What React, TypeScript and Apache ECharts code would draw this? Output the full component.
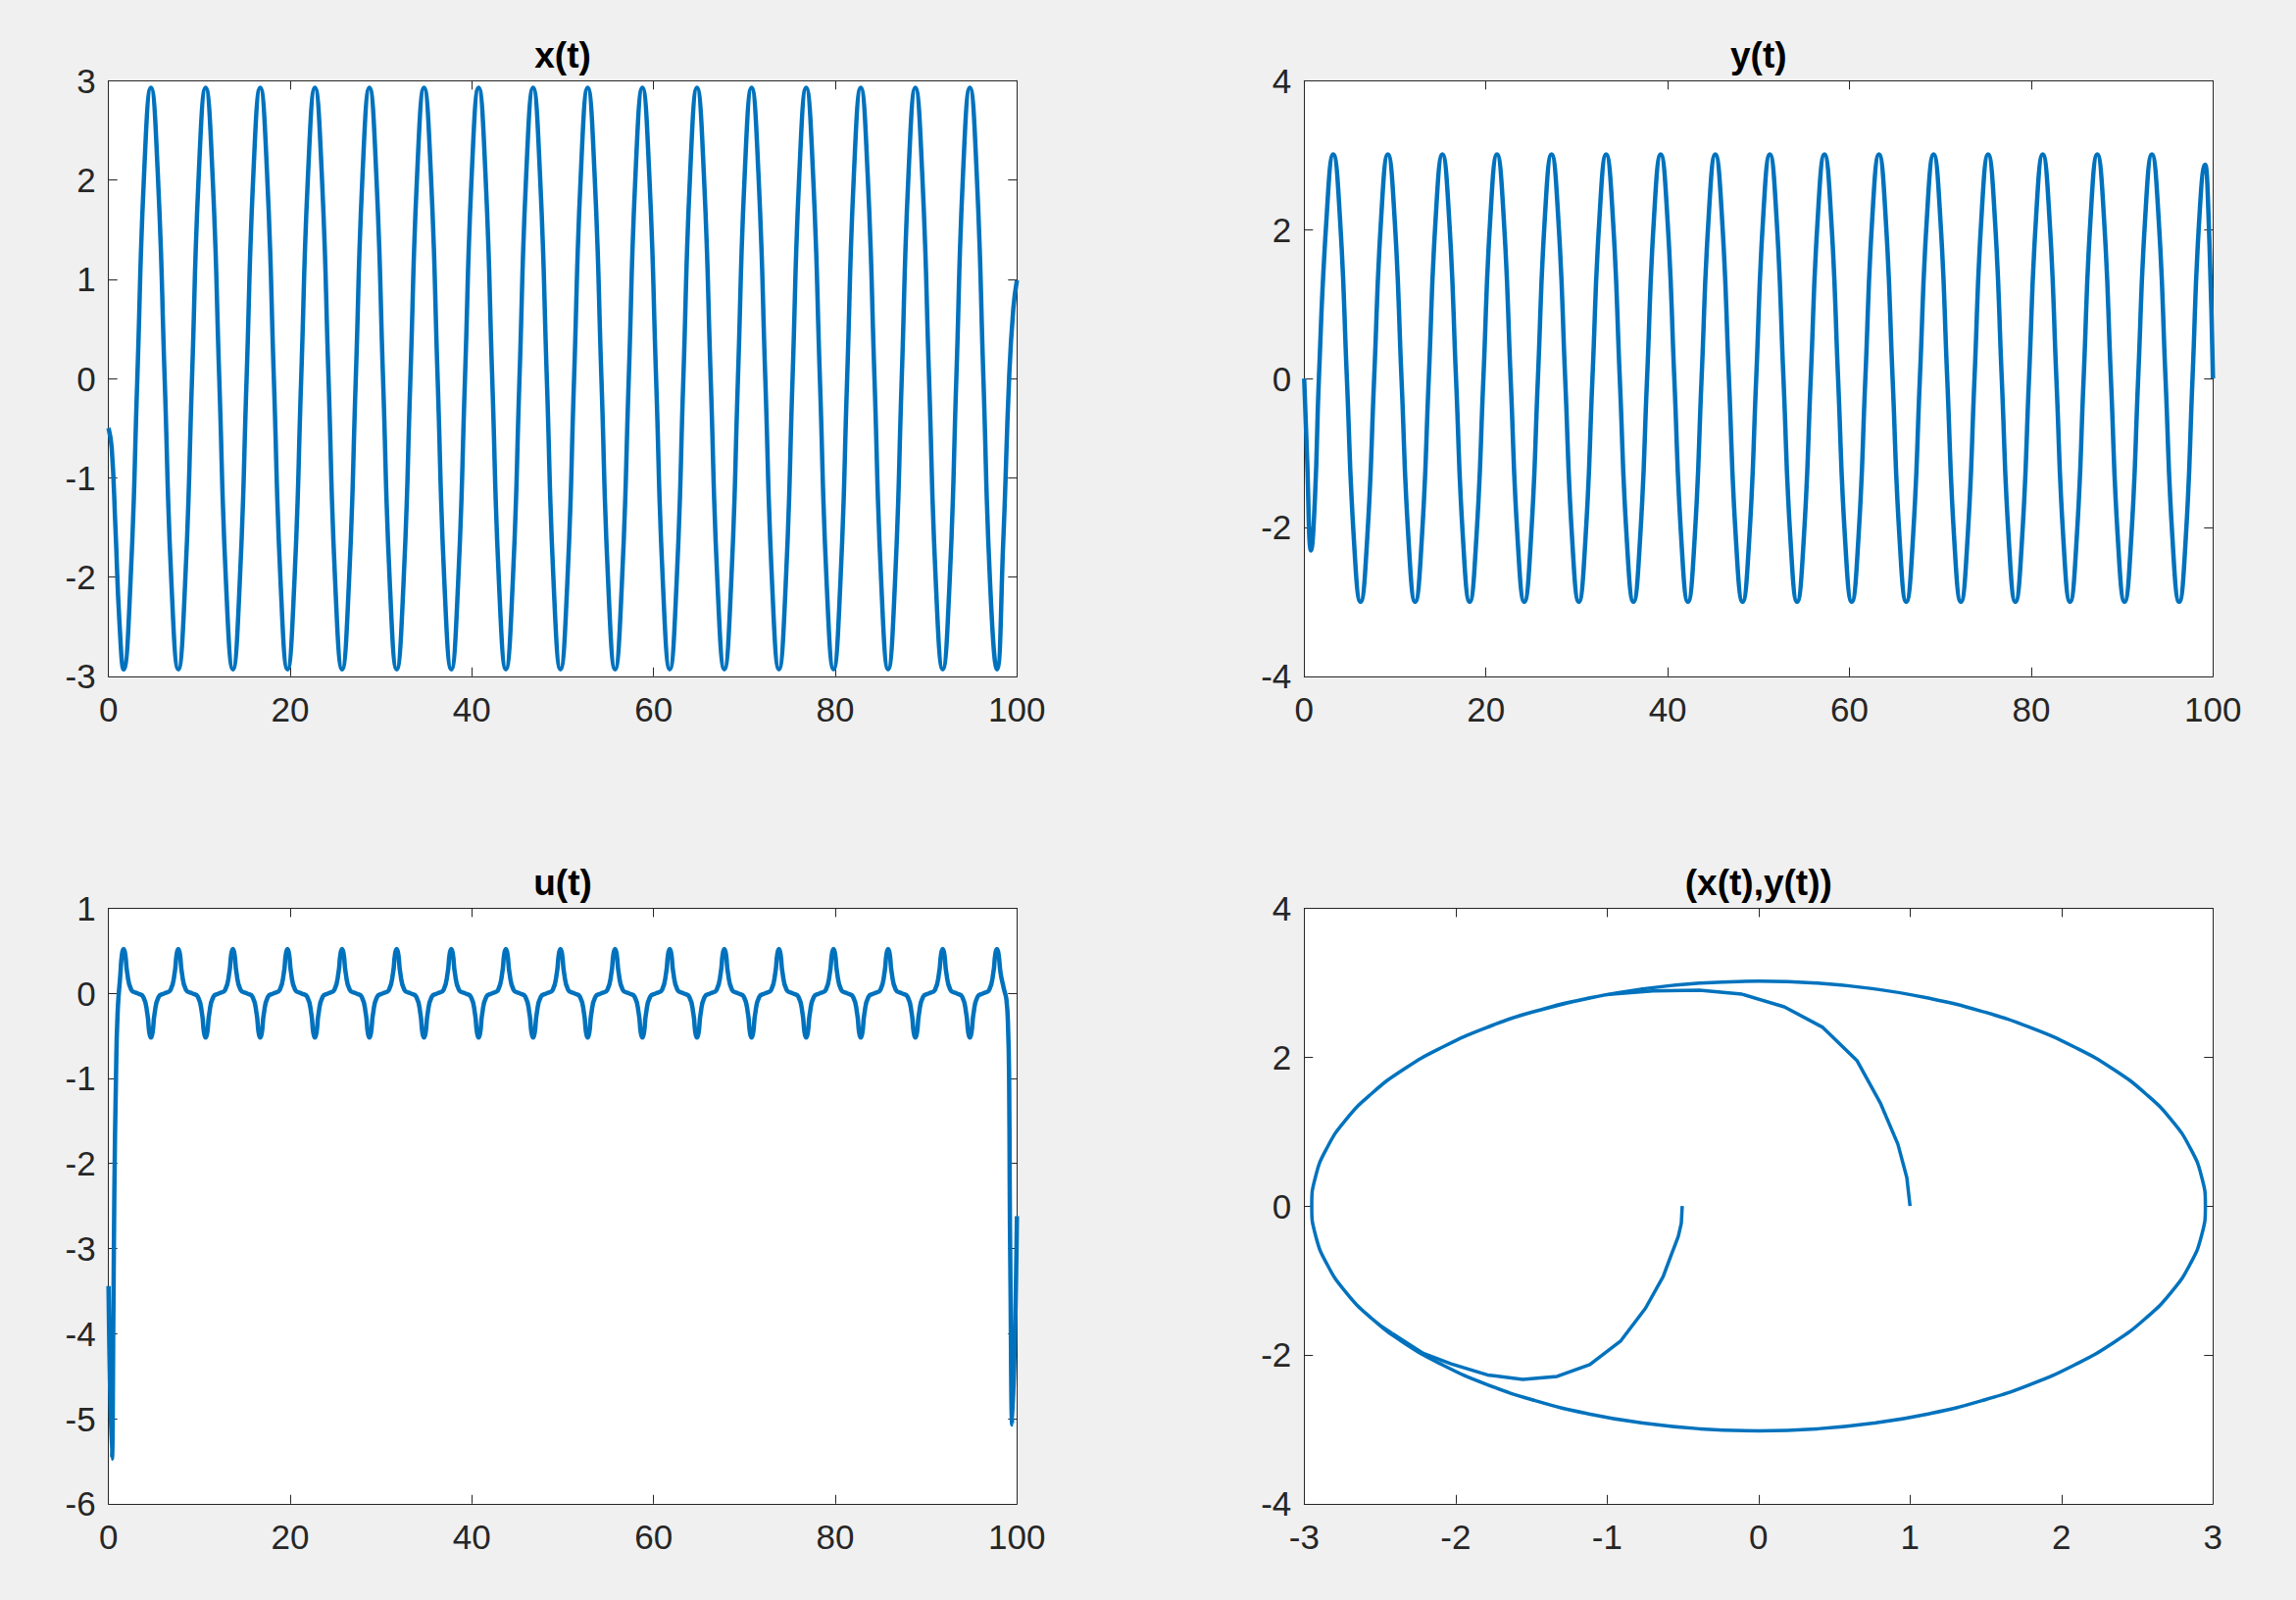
import React, { useEffect, useRef } from "react";
import * as echarts from "echarts";

// ---------- data ----------
const xOfT: [number, number][] = [
  [0, -0.5], [0.35, -0.7], [0.76, -1.5], [1.2, -2.45], [1.66, -2.93],
  [2.41, -2.07], [3.17, 0], [3.92, 2.07], [4.67, 2.93],
  [5.42, 2.07], [6.18, 0], [6.93, -2.07], [7.68, -2.93],
  [8.43, -2.07], [9.19, 0], [9.94, 2.07], [10.69, 2.93],
  [11.44, 2.07], [12.19, 0], [12.94, -2.07], [13.69, -2.93],
  [14.44, -2.07], [15.2, 0], [15.95, 2.07], [16.7, 2.93],
  [17.45, 2.07], [18.2, 0], [18.95, -2.07], [19.7, -2.93],
  [20.45, -2.07], [21.21, 0], [21.97, 2.07], [22.72, 2.93],
  [23.47, 2.07], [24.22, 0], [24.96, -2.07], [25.71, -2.93],
  [26.46, -2.07], [27.22, 0], [27.97, 2.07], [28.72, 2.93],
  [29.47, 2.07], [30.22, 0], [30.97, -2.07], [31.72, -2.93],
  [32.47, -2.07], [33.23, 0], [33.98, 2.07], [34.73, 2.93],
  [35.48, 2.07], [36.23, 0], [36.98, -2.07], [37.73, -2.93],
  [38.48, -2.07], [39.24, 0], [39.99, 2.07], [40.74, 2.93],
  [41.49, 2.07], [42.24, 0], [42.99, -2.07], [43.74, -2.93],
  [44.49, -2.07], [45.24, 0], [45.99, 2.07], [46.74, 2.93],
  [47.49, 2.07], [48.25, 0], [49.0, -2.07], [49.75, -2.93],
  [50.5, -2.07], [51.25, 0], [52.0, 2.07], [52.75, 2.93],
  [53.5, 2.07], [54.26, 0], [55.01, -2.07], [55.76, -2.93],
  [56.51, -2.07], [57.27, 0], [58.02, 2.07], [58.77, 2.93],
  [59.52, 2.07], [60.28, 0], [61.03, -2.07], [61.78, -2.93],
  [62.53, -2.07], [63.28, 0], [64.03, 2.07], [64.78, 2.93],
  [65.53, 2.07], [66.29, 0], [67.04, -2.07], [67.79, -2.93],
  [68.54, -2.07], [69.29, 0], [70.04, 2.07], [70.79, 2.93],
  [71.54, 2.07], [72.3, 0], [73.05, -2.07], [73.8, -2.93],
  [74.55, -2.07], [75.3, 0], [76.05, 2.07], [76.8, 2.93],
  [77.55, 2.07], [78.31, 0], [79.06, -2.07], [79.81, -2.93],
  [80.56, -2.07], [81.31, 0], [82.06, 2.07], [82.81, 2.93],
  [83.56, 2.07], [84.32, 0], [85.07, -2.07], [85.82, -2.93],
  [86.57, -2.07], [87.32, 0], [88.07, 2.07], [88.82, 2.93],
  [89.57, 2.07], [90.33, 0], [91.08, -2.07], [91.83, -2.93],
  [92.58, -2.07], [93.33, 0], [94.07, 2.07], [94.82, 2.93],
  [95.57, 2.07], [96.31, 0], [97.05, -2.07], [97.8, -2.93],
  [98.5, -1.63], [99.14, 0], [99.6, 0.7], [100, 0.99],
];

const yOfT: [number, number][] = [
  [0, 0], [0.3, -1.0], [0.76, -2.31], [1.19, -1.6], [1.62, 0], [2.45, 2.13], [3.2, 3.01],
  [3.95, 2.13], [4.7, 0], [5.45, -2.12], [6.2, -3.0],
  [6.95, -2.12], [7.7, 0], [8.46, 2.13], [9.21, 3.01],
  [9.96, 2.13], [10.71, 0], [11.46, -2.12], [12.21, -3.0],
  [12.96, -2.12], [13.71, 0], [14.46, 2.13], [15.21, 3.01],
  [15.96, 2.13], [16.71, 0], [17.46, -2.12], [18.21, -3.0],
  [18.96, -2.12], [19.72, 0], [20.47, 2.13], [21.22, 3.01],
  [21.97, 2.13], [22.72, 0], [23.47, -2.12], [24.22, -3.0],
  [24.97, -2.12], [25.72, 0], [26.47, 2.13], [27.22, 3.01],
  [27.97, 2.13], [28.72, 0], [29.47, -2.12], [30.22, -3.0],
  [30.97, -2.12], [31.72, 0], [32.48, 2.13], [33.23, 3.01],
  [33.98, 2.13], [34.73, 0], [35.48, -2.12], [36.23, -3.0],
  [36.98, -2.12], [37.73, 0], [38.48, 2.13], [39.23, 3.01],
  [39.98, 2.13], [40.73, 0], [41.48, -2.12], [42.23, -3.0],
  [42.98, -2.12], [43.73, 0], [44.49, 2.13], [45.24, 3.01],
  [45.99, 2.13], [46.74, 0], [47.49, -2.12], [48.24, -3.0],
  [48.99, -2.12], [49.74, 0], [50.49, 2.13], [51.24, 3.01],
  [51.99, 2.13], [52.74, 0], [53.49, -2.12], [54.24, -3.0],
  [54.99, -2.12], [55.74, 0], [56.5, 2.13], [57.25, 3.01],
  [58.0, 2.13], [58.75, 0], [59.5, -2.12], [60.25, -3.0],
  [61.0, -2.12], [61.75, 0], [62.5, 2.13], [63.25, 3.01],
  [64.0, 2.13], [64.75, 0], [65.5, -2.12], [66.25, -3.0],
  [67.0, -2.12], [67.75, 0], [68.51, 2.13], [69.26, 3.01],
  [70.01, 2.13], [70.76, 0], [71.51, -2.12], [72.26, -3.0],
  [73.01, -2.12], [73.76, 0], [74.51, 2.13], [75.26, 3.01],
  [76.01, 2.13], [76.76, 0], [77.51, -2.12], [78.26, -3.0],
  [79.01, -2.12], [79.76, 0], [80.52, 2.13], [81.27, 3.01],
  [82.02, 2.13], [82.77, 0], [83.52, -2.12], [84.27, -3.0],
  [85.02, -2.12], [85.77, 0], [86.52, 2.13], [87.27, 3.01],
  [88.02, 2.13], [88.77, 0], [89.52, -2.12], [90.27, -3.0],
  [91.02, -2.12], [91.77, 0], [92.53, 2.13], [93.28, 3.01],
  [94.03, 2.13], [94.78, 0], [95.53, -2.12], [96.28, -3.0],
  [97.02, -2.12], [97.75, 0], [98.45, 2.05], [99.14, 2.87], [99.45, 2.4], [100, 0],
];

const uOfT: [number, number][] = [
  [0, -3.44], [0.36, -5.47], [0.54, -3.69], [0.64, -2.35], [0.82, -1.0], [1.0, -0.23],
  [1.3, 0.22], [1.48, 0.46], [1.66, 0.52],
  [1.84, 0.46], [2.06, 0.24], [2.51, 0.04], [3.17, 0], [3.82, -0.04], [4.27, -0.24], [4.49, -0.46], [4.67, -0.52],
  [4.85, -0.46], [5.07, -0.24], [5.52, -0.04], [6.18, 0], [6.83, 0.04], [7.28, 0.24], [7.5, 0.46], [7.68, 0.52],
  [7.86, 0.46], [8.08, 0.24], [8.53, 0.04], [9.19, 0], [9.84, -0.04], [10.29, -0.24], [10.51, -0.46], [10.69, -0.52],
  [10.87, -0.46], [11.09, -0.24], [11.54, -0.04], [12.19, 0], [12.84, 0.04], [13.29, 0.24], [13.51, 0.46], [13.69, 0.52],
  [13.87, 0.46], [14.09, 0.24], [14.54, 0.04], [15.2, 0], [15.85, -0.04], [16.3, -0.24], [16.52, -0.46], [16.7, -0.52],
  [16.88, -0.46], [17.1, -0.24], [17.55, -0.04], [18.2, 0], [18.85, 0.04], [19.3, 0.24], [19.52, 0.46], [19.7, 0.52],
  [19.88, 0.46], [20.1, 0.24], [20.55, 0.04], [21.21, 0], [21.87, -0.04], [22.32, -0.24], [22.54, -0.46], [22.72, -0.52],
  [22.9, -0.46], [23.12, -0.24], [23.57, -0.04], [24.22, 0], [24.86, 0.04], [25.31, 0.24], [25.53, 0.46], [25.71, 0.52],
  [25.89, 0.46], [26.11, 0.24], [26.56, 0.04], [27.22, 0], [27.87, -0.04], [28.32, -0.24], [28.54, -0.46], [28.72, -0.52],
  [28.9, -0.46], [29.12, -0.24], [29.57, -0.04], [30.22, 0], [30.87, 0.04], [31.32, 0.24], [31.54, 0.46], [31.72, 0.52],
  [31.9, 0.46], [32.12, 0.24], [32.57, 0.04], [33.23, 0], [33.88, -0.04], [34.33, -0.24], [34.55, -0.46], [34.73, -0.52],
  [34.91, -0.46], [35.13, -0.24], [35.58, -0.04], [36.23, 0], [36.88, 0.04], [37.33, 0.24], [37.55, 0.46], [37.73, 0.52],
  [37.91, 0.46], [38.13, 0.24], [38.58, 0.04], [39.24, 0], [39.89, -0.04], [40.34, -0.24], [40.56, -0.46], [40.74, -0.52],
  [40.92, -0.46], [41.14, -0.24], [41.59, -0.04], [42.24, 0], [42.89, 0.04], [43.34, 0.24], [43.56, 0.46], [43.74, 0.52],
  [43.92, 0.46], [44.14, 0.24], [44.59, 0.04], [45.24, 0], [45.89, -0.04], [46.34, -0.24], [46.56, -0.46], [46.74, -0.52],
  [46.92, -0.46], [47.14, -0.24], [47.59, -0.04], [48.25, 0], [48.9, 0.04], [49.35, 0.24], [49.57, 0.46], [49.75, 0.52],
  [49.93, 0.46], [50.15, 0.24], [50.6, 0.04], [51.25, 0], [51.9, -0.04], [52.35, -0.24], [52.57, -0.46], [52.75, -0.52],
  [52.93, -0.46], [53.15, -0.24], [53.6, -0.04], [54.26, 0], [54.91, 0.04], [55.36, 0.24], [55.58, 0.46], [55.76, 0.52],
  [55.94, 0.46], [56.16, 0.24], [56.61, 0.04], [57.27, 0], [57.92, -0.04], [58.37, -0.24], [58.59, -0.46], [58.77, -0.52],
  [58.95, -0.46], [59.17, -0.24], [59.62, -0.04], [60.28, 0], [60.93, 0.04], [61.38, 0.24], [61.6, 0.46], [61.78, 0.52],
  [61.96, 0.46], [62.18, 0.24], [62.63, 0.04], [63.28, 0], [63.93, -0.04], [64.38, -0.24], [64.6, -0.46], [64.78, -0.52],
  [64.96, -0.46], [65.18, -0.24], [65.63, -0.04], [66.29, 0], [66.94, 0.04], [67.39, 0.24], [67.61, 0.46], [67.79, 0.52],
  [67.97, 0.46], [68.19, 0.24], [68.64, 0.04], [69.29, 0], [69.94, -0.04], [70.39, -0.24], [70.61, -0.46], [70.79, -0.52],
  [70.97, -0.46], [71.19, -0.24], [71.64, -0.04], [72.3, 0], [72.95, 0.04], [73.4, 0.24], [73.62, 0.46], [73.8, 0.52],
  [73.98, 0.46], [74.2, 0.24], [74.65, 0.04], [75.3, 0], [75.95, -0.04], [76.4, -0.24], [76.62, -0.46], [76.8, -0.52],
  [76.98, -0.46], [77.2, -0.24], [77.65, -0.04], [78.31, 0], [78.96, 0.04], [79.41, 0.24], [79.63, 0.46], [79.81, 0.52],
  [79.99, 0.46], [80.21, 0.24], [80.66, 0.04], [81.31, 0], [81.96, -0.04], [82.41, -0.24], [82.63, -0.46], [82.81, -0.52],
  [82.99, -0.46], [83.21, -0.24], [83.66, -0.04], [84.32, 0], [84.97, 0.04], [85.42, 0.24], [85.64, 0.46], [85.82, 0.52],
  [86.0, 0.46], [86.22, 0.24], [86.67, 0.04], [87.32, 0], [87.97, -0.04], [88.42, -0.24], [88.64, -0.46], [88.82, -0.52],
  [89.0, -0.46], [89.22, -0.24], [89.67, -0.04], [90.33, 0], [90.98, 0.04], [91.43, 0.24], [91.65, 0.46], [91.83, 0.52],
  [92.01, 0.46], [92.23, 0.24], [92.68, 0.04], [93.33, 0], [93.97, -0.04], [94.42, -0.24], [94.64, -0.46], [94.82, -0.52],
  [95.0, -0.46], [95.22, -0.24], [95.67, -0.04], [96.31, 0], [96.95, 0.04], [97.4, 0.24], [97.62, 0.46], [97.8, 0.52],
  [97.98, 0.46], [98.2, 0.24], [98.55, 0.06], [98.85, -0.08], [99.03, -0.42], [99.14, -1.0], [99.2, -2.15],
  [99.28, -3.3], [99.5, -5.07], [100, -2.62],
];

const phaseStart: [number, number][] = [
  [-0.504, 0], [-0.51, -0.23], [-0.53, -0.41], [-0.575, -0.65], [-0.63, -0.95],
  [-0.747, -1.375], [-0.909, -1.81], [-1.114, -2.13], [-1.33, -2.29], [-1.557, -2.33],
  [-1.79, -2.27], [-2.03, -2.12], [-2.214, -1.98], [-2.42, -1.71],
];

const phaseOrbit: [number, number][] = [
  [-2.42, -1.71], [-2.555, -1.51], [-2.726, -1.156], [-2.849, -0.782], [-2.925, -0.394], [-2.95, 0],
  [-2.925, 0.394], [-2.849, 0.782], [-2.726, 1.156], [-2.555, 1.51], [-2.341, 1.839], [-2.086, 2.135],
  [-1.796, 2.396], [-1.475, 2.615], [-1.129, 2.79], [-0.763, 2.917], [-0.385, 2.994], [0, 3.02],
  [0.385, 2.994], [0.763, 2.917], [1.129, 2.79], [1.475, 2.615], [1.796, 2.396], [2.086, 2.135],
  [2.341, 1.839], [2.555, 1.51], [2.726, 1.156], [2.849, 0.782], [2.925, 0.394], [2.95, 0],
  [2.925, -0.394], [2.849, -0.782], [2.726, -1.156], [2.555, -1.51], [2.341, -1.839], [2.086, -2.135],
  [1.796, -2.396], [1.475, -2.615], [1.129, -2.79], [0.763, -2.917], [0.385, -2.994], [0, -3.02],
  [-0.385, -2.994], [-0.763, -2.917], [-1.129, -2.79], [-1.475, -2.615], [-1.796, -2.396], [-2.086, -2.135],
  [-2.341, -1.839], [-2.555, -1.51], [-2.726, -1.156], [-2.849, -0.782], [-2.925, -0.394], [-2.95, 0],
  [-2.925, 0.394], [-2.849, 0.782], [-2.726, 1.156], [-2.555, 1.51], [-2.341, 1.839], [-2.086, 2.135],
  [-1.796, 2.396], [-1.475, 2.615], [-1.009, 2.838],
];

const phaseEnd: [number, number][] = [
  [-1.009, 2.838], [-0.7, 2.89], [-0.39, 2.9], [-0.11, 2.845], [0.17, 2.675], [0.424, 2.4],
  [0.651, 1.95], [0.806, 1.375], [0.92, 0.83], [0.979, 0.38], [1.0, 0],
];

const titles = ["x(t)", "y(t)", "u(t)", "(x(t),y(t))"];
// [min, max, interval] for x and y axes of each panel
const xRanges: [number, number, number][] = [[0, 100, 20], [0, 100, 20], [0, 100, 20], [-3, 3, 1]];
const yRanges: [number, number, number][] = [[-3, 3, 1], [-4, 4, 2], [-6, 1, 1], [-4, 4, 2]];

// ---------- layout ----------
const W = 2342;
const H = 1632;
const FONT = '"Liberation Sans", Arial, Helvetica, sans-serif';
const AX = "#262626";
const BLUE = "#0072BD";
const grids = [
  { left: 110.7, top: 82.3, width: 926.6, height: 607.5 },
  { left: 1330.3, top: 82.3, width: 927, height: 607.5 },
  { left: 110.7, top: 926.4, width: 926.6, height: 607.4 },
  { left: 1330.3, top: 926.4, width: 927, height: 607.4 },
];

function axis(gridIndex: number, r: [number, number, number], position: string, labels: boolean, isX: boolean) {
  return {
    type: "value",
    gridIndex,
    position,
    min: r[0],
    max: r[1],
    interval: r[2],
    axisLine: { show: true, onZero: false, lineStyle: { color: AX, width: 1 } },
    axisTick: { show: true, inside: true, length: 9, lineStyle: { color: AX, width: 1 } },
    axisLabel: {
      show: labels,
      color: AX,
      fontSize: 35,
      fontFamily: FONT,
      margin: isX ? 16 : 13,
    },
    splitLine: { show: false },
  };
}

function buildOption() {
  const xAxis: any[] = [];
  const yAxis: any[] = [];
  grids.forEach((_, i) => {
    xAxis.push(axis(i, xRanges[i], "bottom", true, true));
    xAxis.push(axis(i, xRanges[i], "top", false, true));
    yAxis.push(axis(i, yRanges[i], "left", true, false));
    yAxis.push(axis(i, yRanges[i], "right", false, false));
  });
  const line = (idx: number, data: [number, number][], width: number, smooth: number | boolean) => ({
    type: "line",
    xAxisIndex: idx * 2,
    yAxisIndex: idx * 2,
    data,
    symbol: "none",
    showSymbol: false,
    smooth,
    clip: true,
    lineStyle: { color: BLUE, width },
    emphasis: { disabled: true },
  });
  const title = titles.map((t, i) => ({
    text: t,
    left: grids[i].left + grids[i].width / 2,
    top: i < 2 ? 38 : 882,
    textAlign: "center",
    padding: 0,
    textStyle: { fontSize: 37, fontWeight: "bold", color: "#000", fontFamily: FONT },
  }));
  return {
    animation: false,
    backgroundColor: "#f0f0f0",
    title,
    grid: grids.map((g) => ({ ...g, show: true, backgroundColor: "#ffffff", borderWidth: 0 })),
    xAxis,
    yAxis,
    series: [
      line(0, xOfT, 4.5, 0.5),
      line(1, yOfT, 4.5, 0.5),
      line(2, uOfT, 4.5, 0.5),
      line(3, phaseStart, 3.5, false),
      line(3, phaseOrbit, 3.5, 0.5),
      line(3, phaseEnd, 3.5, false),
    ],
  };
}

export default function App() {
  const ref = useRef<HTMLDivElement>(null);
  useEffect(() => {
    document.body.style.margin = "0";
    document.body.style.background = "#f0f0f0";
    const chart = echarts.init(ref.current as HTMLDivElement, null, { renderer: "svg" });
    chart.setOption(buildOption() as any);
    return () => chart.dispose();
  }, []);
  return <div ref={ref} style={{ width: W, height: H, background: "#f0f0f0" }} />;
}
